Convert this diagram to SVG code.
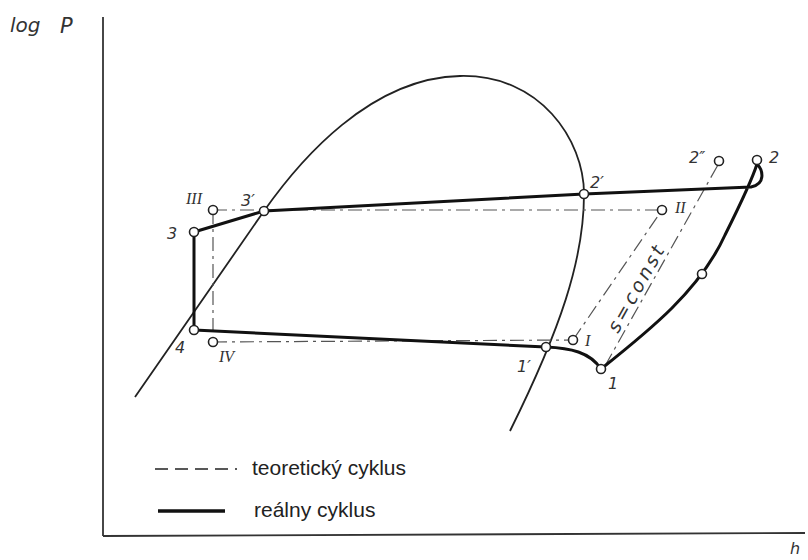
<svg xmlns="http://www.w3.org/2000/svg" width="808" height="560" viewBox="0 0 808 560">
<style>
.axis{fill:none;stroke:#333;stroke-width:1.8}
.dome{fill:none;stroke:#222;stroke-width:1.8}
.real{fill:none;stroke:#111;stroke-width:3;stroke-linejoin:round}
.theo{fill:none;stroke:#555;stroke-width:1.2;stroke-dasharray:14 5 3 5}
.pt{fill:#fff;stroke:#222;stroke-width:1.6}
.lbl{font-family:"DejaVu Sans",sans-serif;font-style:italic;font-size:16px;fill:#333}
.rom{font-family:"Liberation Serif",serif;font-style:italic;font-size:16px;fill:#333}
.leg{font-family:"Liberation Sans",Arial,sans-serif;font-size:21px;fill:#222}
</style>
<rect width="808" height="560" fill="#fff"/>
<g id="axes">
<line class="axis" x1="103" y1="17" x2="103" y2="536"/>
<line class="axis" x1="103" y1="536" x2="805" y2="533"/>
<text x="10" y="32" class="lbl" style="font-size:20px">log</text>
<text x="60" y="33" class="lbl" style="font-size:21px">P</text>
<text x="790" y="554" class="lbl" style="font-size:16px">h</text>
</g>
<g id="dome">
<path class="dome" d="M135,397 L264,211 C300,160 370,78 460,76 C540,74 584,140 584,194 C584,260 560,330 510,431"/>
</g>
<g id="connectors">
<g id="theoretical">
<line class="theo" x1="213" y1="210" x2="662" y2="210"/>
<line class="theo" x1="213" y1="210" x2="213" y2="342"/>
<line class="theo" x1="213" y1="342" x2="573" y2="340"/>
<line class="theo" x1="573" y1="340" x2="662" y2="210"/>
<line class="theo" x1="605" y1="366" x2="719" y2="163"/>
</g>
<g id="real">
<path class="real" d="M194,232 L194,330 L546,347 C570,348 590,352 601,369 C650,330 700,290 725,235 C740,205 752,180 757,164 C763,170 766,184 751,187 L584,194 L264,211 Z"/>
</g>
</g>
<g id="n3"><circle class="pt" cx="194" cy="232" r="4.5"/><text class="lbl" x="167" y="239">3</text></g>
<g id="n4"><circle class="pt" cx="194" cy="330" r="4.5"/><text class="lbl" x="175" y="353">4</text></g>
<g id="n3p"><circle class="pt" cx="264" cy="211" r="4.5"/><text class="lbl" x="241" y="206">3′</text></g>
<g id="n2p"><circle class="pt" cx="584" cy="194" r="4.5"/><text class="lbl" x="590" y="188">2′</text></g>
<g id="n1p"><circle class="pt" cx="546" cy="347" r="4.5"/><text class="lbl" x="517" y="372">1′</text></g>
<g id="n1"><circle class="pt" cx="601" cy="369" r="4.5"/><text class="lbl" x="608" y="389">1</text></g>
<g id="nmid"><circle class="pt" cx="702" cy="274" r="4.5"/></g>
<g id="n2"><circle class="pt" cx="757" cy="160" r="4.5"/><text class="lbl" x="769" y="163">2</text></g>
<g id="n2pp"><circle class="pt" cx="719" cy="161" r="4.5"/><text class="lbl" x="689" y="163">2″</text></g>
<g id="nIII"><circle class="pt" cx="213" cy="210" r="4.5"/><text class="rom" x="186" y="204">III</text></g>
<g id="nIV"><circle class="pt" cx="213" cy="342" r="4.5"/><text class="rom" x="219" y="362">IV</text></g>
<g id="nI"><circle class="pt" cx="573" cy="340" r="4.5"/><text class="rom" x="585" y="346">I</text></g>
<g id="nII"><circle class="pt" cx="662" cy="210" r="4.5"/><text class="rom" x="675" y="213">II</text></g>
<g id="sconst"><text class="lbl" style="font-size:19px" x="0" y="0" textLength="96" transform="translate(618,334) rotate(-60.7)">s=const</text></g>
<g id="legend">
<line x1="155" y1="469" x2="237" y2="469" stroke="#222" stroke-width="1.5" stroke-dasharray="13 7"/>
<text class="leg" x="252" y="475">teoretický cyklus</text>
<line x1="158" y1="511" x2="225" y2="511" stroke="#111" stroke-width="3.5"/>
<text class="leg" x="254" y="517">reálny cyklus</text>
</g>
</svg>
